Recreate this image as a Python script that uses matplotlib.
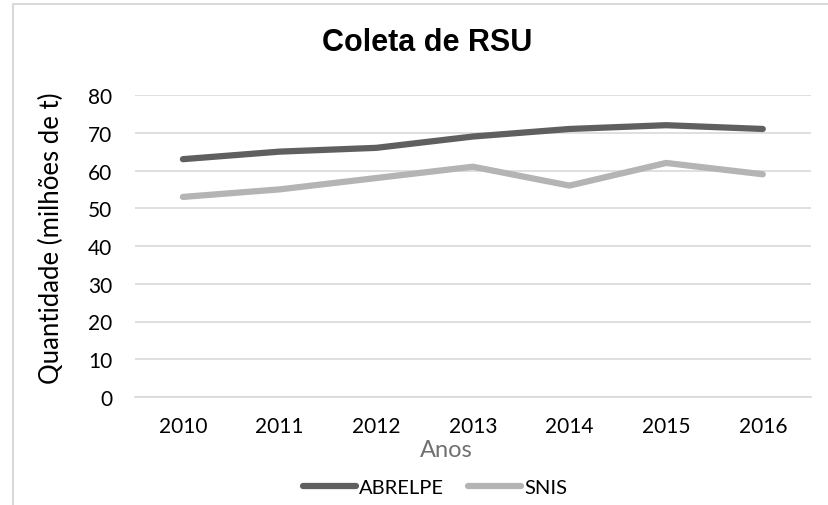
import matplotlib
matplotlib.use("Agg")
import matplotlib.pyplot as plt
from matplotlib.patches import Rectangle

years = ["2010", "2011", "2012", "2013", "2014", "2015", "2016"]
abrelpe = [63, 65, 66, 69, 71, 72, 71]
snis = [53, 55, 58, 61, 56, 62, 59]
y_ticks = [0, 10, 20, 30, 40, 50, 60, 70, 80]

plt.rcParams['font.family'] = ['Lato', 'DejaVu Sans']

fig = plt.figure(figsize=(8.29, 5.06), dpi=100)
ax = fig.add_axes([134.6 / 829, 1 - 398 / 506, 676.5 / 829, 302 / 506])

x = list(range(len(years)))
ax.plot(x, abrelpe, color="#5f5f5f", lw=4.5, solid_capstyle="round", label="ABRELPE")
ax.plot(x, snis, color="#b4b4b4", lw=4.5, solid_capstyle="round", label="SNIS")

ax.set_xlim(-0.5, 6.5)
ax.set_ylim(0, 80)
ax.set_xticks(x)
ax.set_xticklabels(years)
ax.set_yticks(y_ticks)
ax.tick_params(length=0, labelsize=15, colors="black")
ax.tick_params(axis="x", pad=14)
ax.tick_params(axis="y", pad=16)
ax.grid(axis="y", color="#d9d9d9", lw=1.2)
ax.set_axisbelow(True)
for s in ["top", "right", "left"]:
    ax.spines[s].set_visible(False)
ax.spines["bottom"].set_color("#d9d9d9")
ax.spines["bottom"].set_linewidth(1.2)

# axis titles placed like the excel chart (Anos sits a bit left of centre)
fig.text(446 / 829, 1 - 451 / 506, "Anos", ha="center", va="center",
         fontsize=17, color="#707070")
fig.text(51 / 829, 1 - 238 / 506, "Quantidade (milhões de t)", ha="center", va="center",
         rotation=90, fontsize=18.5, color="black")

fig.text(427 / 829, 1 - 43 / 506, "Coleta de RSU", ha="center", va="center",
         fontsize=22, fontweight="bold", family="Liberation Sans")

leg = fig.legend(loc="center", bbox_to_anchor=(435 / 829, 1 - 488 / 506), ncol=2,
                 frameon=False, fontsize=14.5, handlelength=2.65, handletextpad=0.15,
                 columnspacing=1.15)

fig.patches.append(Rectangle((13 / 829, -0.1), 1.0, 1 - 5 / 506 + 0.1, transform=fig.transFigure,
                             fill=False, edgecolor="#d9d9d9", lw=1.5))

fig.savefig("out.png", dpi=100)
